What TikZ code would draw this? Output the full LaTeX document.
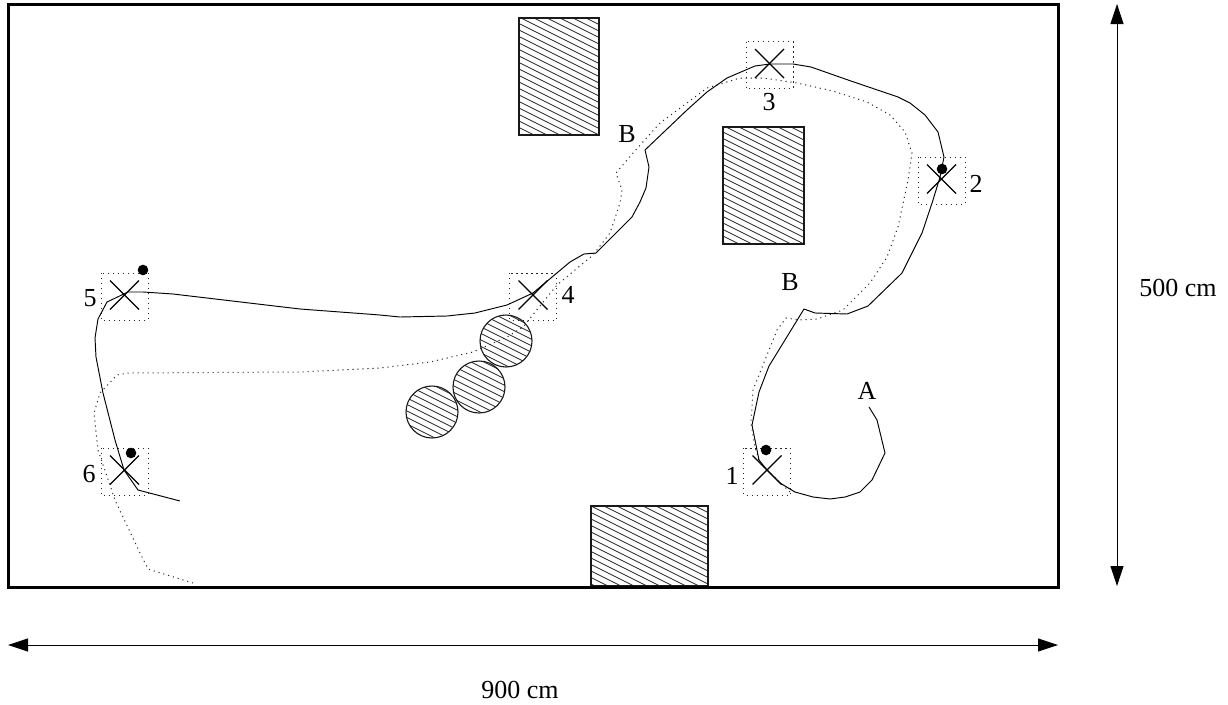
\documentclass[tikz,border=0pt]{standalone}
\usepackage{fontspec}
\setmainfont{Liberation Serif}
\usetikzlibrary{arrows.meta}
\tikzset{
  frameline/.style={draw=black,line width=3pt},
  solidpath/.style={draw=black,line width=0.95pt,line join=round},
  dotpath/.style={draw=black!85,line width=1pt,dash pattern=on 1.1pt off 3.9pt},
  boxdot/.style={draw=black!85,line width=1pt,dash pattern=on 1.1pt off 3.9pt},
  crossline/.style={draw=black,line width=1.25pt},
  hatchline/.style={draw=black!85,line width=0.85pt},
  outline/.style={draw=black!90,line width=1.1pt},
  dimline/.style={draw=black,line width=0.9pt,{Triangle[length=20pt,width=13pt]}-{Triangle[length=20pt,width=13pt]}},
  lab/.style={inner sep=0pt,font=\fontsize{26}{30}\selectfont},
  blob/.style={fill=black}
}
\newcommand{\hatchfill}[4]{%
  \pgfmathsetmacro{\hxa}{#1}%
  \pgfmathsetmacro{\hxb}{#2}%
  \pgfmathsetmacro{\hstart}{#3-0.5*(\hxb-\hxa)}%
  \pgfmathsetmacro{\hnext}{\hstart+6.5}%
  \pgfmathsetmacro{\hend}{#4}%
  \foreach \yy in {\hstart,\hnext,...,\hend}{%
    \draw[hatchline] (\hxa,\yy) -- (\hxb,{\yy+0.5*(\hxb-\hxa)});
  }%
}
\newcommand{\station}[3]{% name, x-centre, y-centre of the cross
  \coordinate (#1) at (#2,#3);
  \draw[boxdot] (#2-23.5,#3-22) rectangle (#2+23.5,#3+25);
  \draw[crossline] (#2-14.5,#3-14.5) -- (#2+14.5,#3+14.5);
  \draw[crossline] (#2-14.5,#3+14.5) -- (#2+14.5,#3-14.5);
}
\newcommand{\hatchrect}[4]{%
  \begin{scope}
    \clip (#1,#3) rectangle (#2,#4);
    \hatchfill{#1}{#2}{#3}{#4}
  \end{scope}
  \draw[outline] (#1,#3) rectangle (#2,#4);
}
\newcommand{\hatchcirc}[2]{%
  \begin{scope}
    \clip (#1,#2) circle[radius=26pt];
    \hatchfill{#1-27}{#1+27}{#2-27}{#2+27}
  \end{scope}
  \draw[outline] (#1,#2) circle[radius=26pt];
}
\begin{document}
\begin{tikzpicture}[x=1pt,y=-1pt]
\useasboundingbox (0,0) rectangle (1228,704);
\fill[white] (0,0) rectangle (1228,704);

% obstacles
\hatchrect{519}{599}{18}{135}
\hatchrect{723}{804}{127}{244}
\hatchrect{591}{708}{506}{586}
\hatchcirc{432}{412}
\hatchcirc{479}{387}
\hatchcirc{506}{341}

% stations
\station{s1}{767}{470}
\station{s2}{941.5}{179}
\station{s3}{769.5}{63.5}
\station{s4}{533}{295}
\station{s5}{124.5}{295}
\station{s6}{124.5}{470}

% dotted path
\draw[dotpath] (193,583) -- (148,569) -- (140,553) -- (115,500) -- (98,450) -- (94,413) -- (100,393)
  -- (117,375) -- (128,373) -- (300,372) -- (380,368) -- (430,362) -- (473,352) -- (507,337)
  -- (523,327) -- (557,285) -- (593,255) -- (610,233) -- (620,203) -- (622,190) -- (616,173)
  -- (633,153) -- (660,123) -- (707,88) -- (740,78) -- (763,78) -- (797,83) -- (833,91)
  -- (867,102) -- (890,115) -- (905,132) -- (912,153) -- (908,180) -- (898,227) -- (887,257)
  -- (870,283) -- (843,310) -- (817,319) -- (800,320) -- (786,318) -- (777,330) -- (753,390)
  -- (751,423) -- (755,447) -- (760,463) -- (790,492);

% solid path
\draw[solidpath] (869,407) -- (877,420) -- (885,453) -- (872,480) -- (860,492) -- (845,497)
  -- (830,499) -- (813,497) -- (795,492) -- (780,483) -- (767,470) -- (759,460) -- (752,425)
  -- (759,392) -- (769,366) -- (804,309) -- (815,313) -- (847,314) -- (868,306) -- (902,273)
  -- (922,233) -- (933,200) -- (940,177) -- (944,157) -- (938,132) -- (925,115) -- (910,103)
  -- (898,97) -- (848,80) -- (811,67) -- (793,64) -- (770,64) -- (755,66) -- (727,78)
  -- (707,92) -- (687,110) -- (645,150) -- (649,167) -- (646,188) -- (640,202) -- (632,217)
  -- (596,253) -- (584,254) -- (570,262) -- (533,293) -- (507,305) -- (475,313) -- (447,316)
  -- (400,317) -- (380,315) -- (300,309) -- (173,294) -- (143,292) -- (128,292) -- (107,302)
  -- (98,319) -- (95,338) -- (96,357) -- (103,393) -- (115,440) -- (124,470) -- (138,490) -- (180,501);

% dots
\fill[blob] (143,270) circle[radius=5.3pt];
\fill[blob] (131,453) circle[radius=5.3pt];
\fill[blob] (766,450) circle[radius=5.3pt];
\fill[blob] (942,169) circle[radius=5.3pt];

% frame
\draw[frameline] (8.5,4) rectangle (1058,587);

% labels
\node[lab] (n1) at (732,476) {1};
\node[lab] (n2) at (976,184) {2};
\node[lab] (n3) at (769,102) {3};
\node[lab] (n4) at (568,295) {4};
\node[lab] (n5) at (90,298) {5};
\node[lab] (n6) at (89,474) {6};
\node[lab] (lA) at (867,391) {A};
\node[lab] (lB1) at (627,134) {B};
\node[lab] (lB2) at (790,282) {B};

% dimensions
\coordinate (hl) at (8,645);
\coordinate (hr) at (1058,645);
\coordinate (vt) at (1117,4);
\coordinate (vb) at (1117,586);
\draw[dimline] (hl) -- (hr);
\draw[dimline] (vt) -- (vb);
\node[lab] (wlab) at (520,690) {900 cm};
\node[lab] (hlab) at (1178,288) {500 cm};
\end{tikzpicture}
\end{document}
